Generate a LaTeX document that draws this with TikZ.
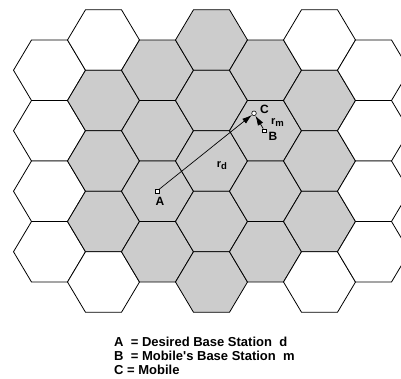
\documentclass[tikz,border=0pt]{standalone}
\usepackage{fontspec}
\setmainfont{Liberation Sans}
\usetikzlibrary{positioning,arrows.meta}

\definecolor{cellgray}{RGB}{204,204,204}

\tikzset{
  cell/.style={draw, line width=0.8pt, line join=miter},
  station/.style={draw, rectangle, fill=white, inner sep=0pt,
                  minimum size=3.6pt, line width=0.6pt},
  mobile/.style={draw, circle, fill=white, inner sep=0pt,
                 minimum size=4.6pt, line width=0.6pt},
  tag/.style={font=\bfseries\fontsize{12}{14}\selectfont, inner sep=0.5pt},
  dist/.style={font=\bfseries\fontsize{11}{13}\selectfont, inner sep=0.5pt},
  legend/.style={font=\bfseries\fontsize{13}{15}\selectfont, inner sep=0pt,
                 anchor=base west}
}
\newcommand{\sub}[1]{\raisebox{-1.5pt}{\fontsize{9.5}{11}\selectfont #1}}

\begin{document}
\begin{tikzpicture}[x=1pt, y=-1pt, >={Latex[length=10pt,width=6pt]}]
  \useasboundingbox (0,0) rectangle (401,378);

  % the cells, column by column (gray = the 19-cell cluster)
  \begin{scope}
    \clip (0,0) rectangle (401,378);
    \foreach \col/\rows/\first/\last in
        {0/3/9/9, 1/4/1/3, 2/3/0/3, 3/4/0/4, 4/3/0/3, 5/4/1/3, 6/3/9/9}
      \foreach \row in {0,...,\rows} {
        \pgfmathsetmacro\cx{49.5+54*\col}
        \pgfmathsetmacro\cy{40+30.25*(1-mod(\col,2))+60.5*\row}
        \pgfmathtruncatemacro\isgray{and(\row>=\first,\row<=\last)}
        \ifnum\isgray=1 \def\hexfill{cellgray}\else\def\hexfill{white}\fi
        \draw[cell, fill=\hexfill]
          (\cx-36,\cy) -- (\cx-18,\cy-30.25) -- (\cx+18,\cy-30.25)
          -- (\cx+36,\cy) -- (\cx+18,\cy+30.25) -- (\cx-18,\cy+30.25) -- cycle;
      }
  \end{scope}

  % stations and mobile
  \node (A) [station] at (157,191) {};
  \node (B) [station] at (264.5,130.7) {};
  \node (C) [mobile] at (254,113.3) {};

  \draw[->, line width=0.7pt] (A) -- (C);
  \draw[->, line width=0.7pt] (B) -- (C);

  \node (labA) [tag] at (160,201.5) {A};
  \node (labB) [tag] at (273,136.5) {B};
  \node (labC) [tag] at (264.5,109.5) {C};
  \node (rm) [dist] at (277.5,122.5) {r\sub{m}};
  \node (rd) [dist] at (222,165.5) {r\sub{d}};

  % legend
  \node (legA) [legend] at (114,346) {A\ \ = Desired Base Station\ \ d};
  \node (legB) [legend] at ([yshift=-14pt]legA.base west)
    {B\ \ = Mobile\textquotesingle s Base Station\ \ m};
  \node (legC) [legend] at ([yshift=-14pt]legB.base west) {C = Mobile};
\end{tikzpicture}
\end{document}
